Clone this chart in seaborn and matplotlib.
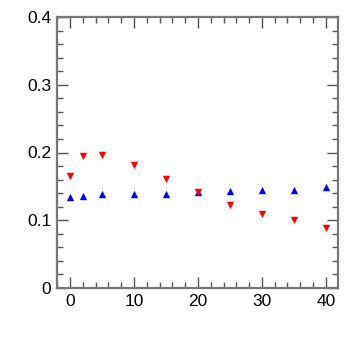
import numpy as np
import pandas as pd
import seaborn as sns
import matplotlib.pyplot as plt
from matplotlib.ticker import MultipleLocator

x_vals = [0, 2, 5, 10, 15, 20, 25, 30, 35, 40]
blue_up = [0.134, 0.136, 0.139, 0.139, 0.139, 0.141, 0.143, 0.145, 0.145, 0.149]
red_down = [0.165, 0.195, 0.197, 0.181, 0.161, 0.142, 0.1225, 0.1096, 0.0997, 0.0879]
y_ticks = [0, 0.1, 0.2, 0.3, 0.4]
y_labels = ["0", "0.1", "0.2", "0.3", "0.4"]

sns.set_style("ticks")
plt.rcParams["font.family"] = ["Liberation Sans", "DejaVu Sans"]

df = pd.DataFrame({"x": x_vals, "up": blue_up, "down": red_down})

fig = plt.figure(figsize=(3.57, 3.43), dpi=100)
ax = fig.add_axes([57 / 357, 1 - 288 / 343, (338 - 57) / 357, (288 - 17) / 343])

sns.scatterplot(data=df, x="x", y="up", marker="^", color="blue", s=28,
                linewidth=0, ax=ax)
sns.scatterplot(data=df, x="x", y="down", marker="v", color="red", s=28,
                linewidth=0, ax=ax)

ax.set_xlim(-2.05, 41.9)
ax.set_ylim(0, 0.4)
ax.set_xlabel("")
ax.set_ylabel("")
ax.xaxis.set_major_locator(MultipleLocator(10))
ax.xaxis.set_minor_locator(MultipleLocator(2))
ax.set_yticks(y_ticks, labels=y_labels)
ax.yaxis.set_minor_locator(MultipleLocator(0.02))
ax.tick_params(which="both", direction="in", top=True, right=True,
               color="#555555", width=1, labelsize=12.5, labelcolor="black")
ax.tick_params(which="major", length=8, pad=4)
ax.tick_params(which="minor", length=4)
for sp in ax.spines.values():
    sp.set_color("#777777")
    sp.set_linewidth(1.6)

fig.savefig("out.png", dpi=100)
